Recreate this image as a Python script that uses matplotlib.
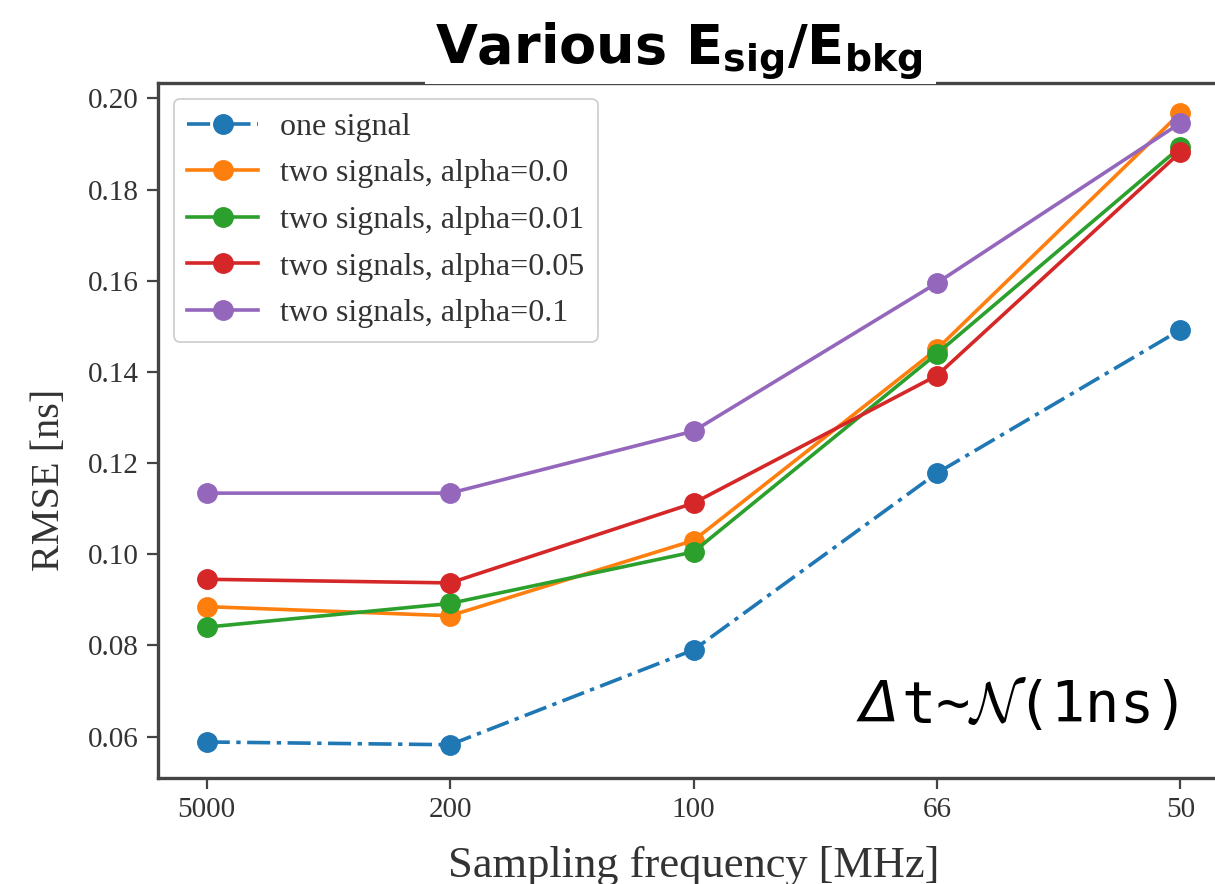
import matplotlib
matplotlib.use("Agg")
import matplotlib.pyplot as plt
from matplotlib.patches import Rectangle

# ---- data ----
freq_labels = ["5000", "200", "100", "66", "50"]
one_signal = [0.0588, 0.0582, 0.0790, 0.1178, 0.1492]
alpha_00 = [0.0885, 0.0865, 0.1030, 0.1450, 0.1968]
alpha_001 = [0.0840, 0.0892, 0.1005, 0.1440, 0.1893]
alpha_005 = [0.0945, 0.0937, 0.1112, 0.1392, 0.1882]
alpha_01 = [0.1134, 0.1134, 0.1270, 0.1595, 0.1946]
series_labels = ["one signal", "two signals, alpha=0.0", "two signals, alpha=0.01",
                 "two signals, alpha=0.05", "two signals, alpha=0.1"]
yticks = [0.06, 0.08, 0.10, 0.12, 0.14, 0.16, 0.18, 0.20]

colors = ["#1f77b4", "#ff7f0e", "#2ca02c", "#d62728", "#9467bd"]

W, H = 1215, 884
fig = plt.figure(figsize=(W/100, H/100), dpi=100)
ax = fig.add_axes([158/W, 1-778/H, (1229-158)/W, (778-83)/H])

x = list(range(len(freq_labels)))
lw = 2.6
ms = 14
ax.plot(x, one_signal, linestyle=(0, (6.4, 1.8, 1.2, 1.8)), marker="o", color=colors[0],
        lw=lw, ms=ms, label=series_labels[0])
for vals, c, lab in zip([alpha_00, alpha_001, alpha_005, alpha_01], colors[1:], series_labels[1:]):
    ax.plot(x, vals, linestyle="-", marker="o", color=c, lw=lw, ms=ms, label=lab)

ax.set_xlim(-0.2, 4.2)
ax.set_ylim(0.0509, 0.20338)
ax.set_xticks(x)
ax.set_xticklabels(freq_labels)
ax.set_yticks(yticks)
ax.set_yticklabels([f"{v:.2f}" for v in yticks])

serif = "Liberation Serif"
for lab in ax.get_xticklabels() + ax.get_yticklabels():
    lab.set_fontfamily(serif)
    lab.set_fontsize(21)
    lab.set_color("#333333")
ax.tick_params(axis="both", direction="out", length=8, width=1.6, color="#444444", pad=6)

for sp in ax.spines.values():
    sp.set_linewidth(2.4)
    sp.set_color("#444444")

ax.set_xlabel("Sampling frequency [MHz]", fontfamily=serif, fontsize=32, color="#333333", labelpad=16)
ax.set_ylabel("RMSE [ns]", fontfamily=serif, fontsize=29, color="#333333")
ax.yaxis.set_label_coords(-0.084, 0.429)

leg = ax.legend(loc="upper left", prop={"family": serif, "size": 23}, labelspacing=0.54,
                handlelength=2.2, handletextpad=0.7, borderaxespad=0.5, borderpad=0.42,
                framealpha=1.0, fancybox=True)
leg.get_frame().set_edgecolor("#cccccc")
leg.get_frame().set_linewidth(1.2)
for t in leg.get_texts():
    t.set_color("#333333")

# white box behind the title, partly covering the top spine
fig.patches.append(Rectangle((425/W, 1-83.5/H), (936-425)/W, 83.5/H, transform=fig.transFigure,
                             facecolor="white", edgecolor="none", zorder=5))
fig.text(679/W, 1-64/H, r"Various E$_{\mathbf{sig}}$/E$_{\mathbf{bkg}}$",
         fontsize=39, fontweight="bold", ha="center", va="baseline",
         fontfamily="DejaVu Sans", math_fontfamily="dejavusans", zorder=10)

# annotation
rest = fig.text(1178/W, 1-722/H, r"t~$\mathcal{N}$(1ns)",
                fontsize=41, ha="right", va="baseline", fontfamily="DejaVu Sans Mono",
                math_fontfamily="cm", color="black")
fig.canvas.draw()
bb = rest.get_window_extent(renderer=fig.canvas.get_renderer())
fig.text(bb.x0 / W - 0.002, 1-722/H, "\u0394", fontsize=41, ha="right", va="baseline",
         fontfamily="DejaVu Sans", fontstyle="italic", color="black")

fig.savefig("out.png", dpi=100)
